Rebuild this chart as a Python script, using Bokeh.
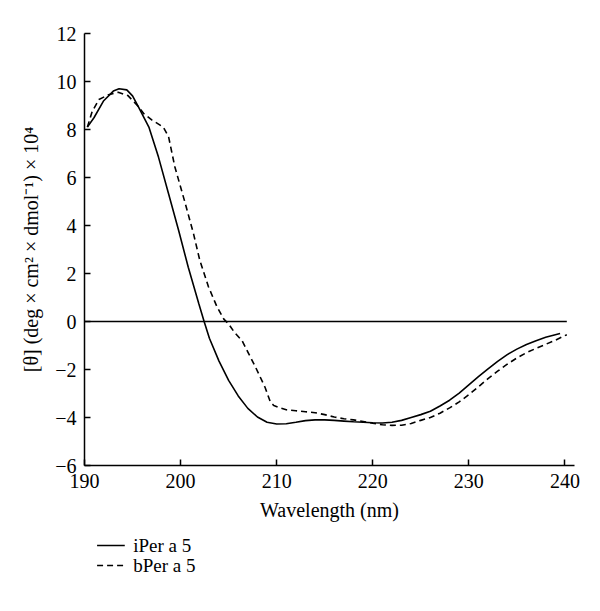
from bokeh.plotting import figure
from bokeh.layouts import column
from bokeh.models import Range1d, FixedTicker
from bokeh.core.properties import value
from bokeh.embed import file_html
from bokeh.resources import INLINE

# iPer a 5 (solid)
ip_x = [190.3, 191, 192, 193, 193.6, 194.4, 195, 195.6, 196.7, 197.7, 198.75, 199.8,
        200.8, 201.9, 202.45, 203, 204, 205, 206, 207, 208, 209, 210, 211, 212, 213,
        214, 215, 216, 217, 218, 219, 220, 221, 222, 223, 224, 225, 226, 227, 228,
        229, 230, 231, 232, 233, 234, 235, 236, 237, 238, 239, 239.5]
ip_y = [8.1, 8.5, 9.2, 9.6, 9.7, 9.65, 9.4, 8.95, 8.1, 6.85, 5.32, 3.79,
        2.26, 0.74, 0.0, -0.7, -1.65, -2.45, -3.1, -3.62, -3.98, -4.2, -4.27, -4.26, -4.2, -4.13,
        -4.1, -4.1, -4.12, -4.15, -4.18, -4.2, -4.22, -4.23, -4.2, -4.12, -4.0, -3.88, -3.74, -3.52, -3.28,
        -2.98, -2.64, -2.3, -1.97, -1.66, -1.38, -1.15, -0.96, -0.8, -0.66, -0.55, -0.5]

# bPer a 5 (dashed)
bp_x = [190.3, 190.8, 191.5, 192.5, 193.5, 194.5, 195.5, 196.2, 197, 198.2, 198.75, 199.4,
        200.5, 201.35, 202, 202.9, 203.8, 204.5, 205, 205.6, 206.4, 207.1, 207.8, 208.8,
        209.35, 209.7, 210.2, 211, 212, 213, 214, 215, 216, 217, 218, 219, 220, 221, 222,
        223, 224, 225, 226, 227, 228, 229, 230, 231, 232, 233, 234, 235, 236, 237, 238,
        239, 240.2]
bp_y = [8.1, 8.75, 9.25, 9.45, 9.55, 9.42, 9.0, 8.65, 8.4, 8.1, 7.7, 6.45,
        4.9, 3.65, 2.55, 1.45, 0.6, 0.1, -0.1, -0.45, -0.8, -1.35, -1.9, -2.75,
        -3.36, -3.5, -3.58, -3.68, -3.72, -3.76, -3.8, -3.88, -3.98, -4.05, -4.1, -4.17, -4.24, -4.3, -4.33,
        -4.32, -4.25, -4.12, -4.0, -3.82, -3.6, -3.35, -3.05, -2.72, -2.38, -2.07, -1.78, -1.52, -1.3, -1.12, -0.95,
        -0.78, -0.55]

x_ticks = [190, 200, 210, 220, 230, 240]
y_ticks = [-6, -4, -2, 0, 2, 4, 6, 8, 10, 12]
series_labels = ["iPer a 5", "bPer a 5"]

FONT = "Liberation Serif"
SOLID = dict(line_color="black", line_width=1.6)
DASHED = dict(line_color="black", line_width=1.6, line_dash="6 4")

p = figure(x_range=Range1d(190, 241), y_range=Range1d(-6, 12),
           frame_width=490, frame_height=432,
           min_border_left=84, min_border_top=33, min_border_right=10, min_border_bottom=70,
           output_backend="svg", toolbar_location=None)
p.outline_line_color = None
p.xgrid.visible = False
p.ygrid.visible = False

zero_x = [min(ip_x[0], bp_x[0]) - 0.3, max(ip_x[-1], bp_x[-1])]
p.line(zero_x, [0, 0], line_color="black", line_width=1.5)

p.line(ip_x, ip_y, **SOLID)
p.line(bp_x, bp_y, **DASHED)

for ax in (p.xaxis[0], p.yaxis[0]):
    ax.axis_line_width = 1.5
    ax.axis_line_color = "black"
    ax.major_tick_in = 6
    ax.major_tick_out = 0
    ax.major_tick_line_width = 1.5
    ax.minor_tick_line_color = None
    ax.major_label_text_font = FONT
    ax.major_label_text_font_size = "20px"
    ax.major_label_text_color = "black"
    ax.axis_label_text_font = FONT
    ax.axis_label_text_font_size = "20px"
    ax.axis_label_text_font_style = "normal"
    ax.axis_label_text_color = "black"

p.xaxis.ticker = FixedTicker(ticks=x_ticks)
p.yaxis.ticker = FixedTicker(ticks=y_ticks)
p.yaxis.major_label_overrides = {t: str(t).replace("-", "\u2212") for t in y_ticks}
p.xaxis.major_label_standoff = 8
p.yaxis.major_label_standoff = 8
p.xaxis.axis_label = "Wavelength (nm)"
p.xaxis.axis_label_standoff = 8
p.yaxis.axis_label = "[\u03b8] (deg \u00d7 cm\u00b2 \u00d7 dmol\u207b\u00b9) \u00d7 10\u2074"
p.yaxis.axis_label_standoff = 10

# legend strip under the chart (pixel-unit canvas, y downward)
LW, LH = 584, 60
lf = figure(width=LW, height=LH, x_range=Range1d(0, LW), y_range=Range1d(LH, 0),
            min_border=0, x_axis_location=None, y_axis_location=None,
            output_backend="svg", toolbar_location=None)
lf.outline_line_color = None
lf.xgrid.visible = False
lf.ygrid.visible = False
key_x0, key_x1, label_x = 15, 48, 58
row_y = [10, 30]
lf.segment(x0=key_x0, y0=row_y[0], x1=key_x1, y1=row_y[0], **SOLID)
lf.segment(x0=key_x0, y0=row_y[1], x1=key_x1, y1=row_y[1], **DASHED)
lf.text(x=[label_x, label_x], y=row_y, text=series_labels,
        text_font=value(FONT), text_font_size="19px", text_color="black",
        text_baseline="middle", text_align="left")

layout = column(p, lf, spacing=0)
open("out.html", "w").write(file_html(layout, INLINE))
